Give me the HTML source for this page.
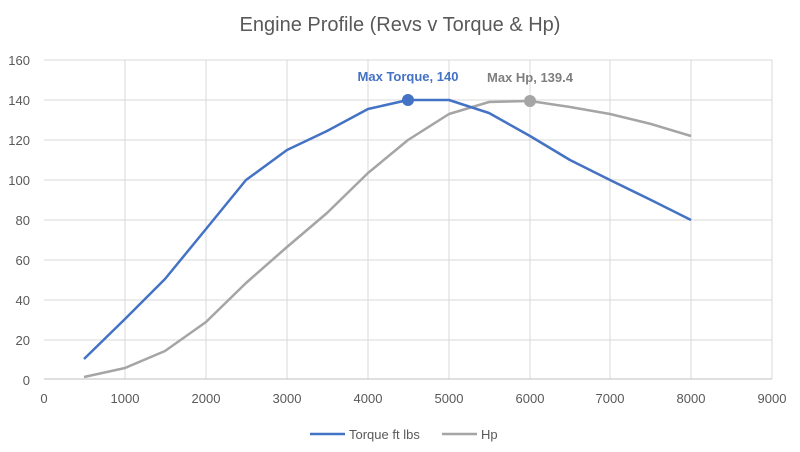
<!DOCTYPE html>
<html><head><meta charset="utf-8"><style>
body{margin:0;background:#fff;}
svg{display:block;font-family:"Liberation Sans",sans-serif;}
</style></head><body>
<svg width="800" height="452" viewBox="0 0 800 452">
<rect width="800" height="452" fill="#fff"/>
<text x="400" y="31" text-anchor="middle" font-size="20" fill="#595959">Engine Profile (Revs v Torque &amp; Hp)</text>
<g stroke="#d9d9d9" stroke-width="1">
<line x1="44" y1="60" x2="772" y2="60"/><line x1="44" y1="100" x2="772" y2="100"/>
<line x1="44" y1="140" x2="772" y2="140"/><line x1="44" y1="180" x2="772" y2="180"/>
<line x1="44" y1="220" x2="772" y2="220"/><line x1="44" y1="260" x2="772" y2="260"/>
<line x1="44" y1="300" x2="772" y2="300"/><line x1="44" y1="340" x2="772" y2="340"/>
<line x1="125" y1="60" x2="125" y2="379"/><line x1="206" y1="60" x2="206" y2="379"/>
<line x1="287" y1="60" x2="287" y2="379"/><line x1="368" y1="60" x2="368" y2="379"/>
<line x1="449" y1="60" x2="449" y2="379"/><line x1="530" y1="60" x2="530" y2="379"/>
<line x1="610" y1="60" x2="610" y2="379"/><line x1="691" y1="60" x2="691" y2="379"/>
<line x1="772" y1="60" x2="772" y2="379"/>
</g>
<line x1="44" y1="379" x2="772" y2="379" stroke="#bfbfbf"/>
<g font-size="13" fill="#595959" text-anchor="end">
<text x="30" y="65">160</text><text x="30" y="105">140</text><text x="30" y="145">120</text>
<text x="30" y="185">100</text><text x="30" y="225">80</text><text x="30" y="265">60</text>
<text x="30" y="305">40</text><text x="30" y="345">20</text><text x="30" y="385">0</text>
</g>
<g font-size="13" fill="#595959" text-anchor="middle">
<text x="44" y="403">0</text><text x="125" y="403">1000</text><text x="206" y="403">2000</text>
<text x="287" y="403">3000</text><text x="368" y="403">4000</text><text x="449" y="403">5000</text>
<text x="530" y="403">6000</text><text x="610" y="403">7000</text><text x="691" y="403">8000</text>
<text x="772" y="403">9000</text>
</g>
<polyline fill="none" stroke="#a5a5a5" stroke-width="2.5" stroke-linejoin="round" points="84,377 125,368 165,351 206,322 246,283 287,247 327,213 368,173 408,140 449,114 489,102 530,101 570,107 610,114 651,124 691,136"/>
<polyline fill="none" stroke="#4472c4" stroke-width="2.5" stroke-linejoin="round" points="84,359 125,319 165,279 206,229 246,180 287,150 327,131 368,109 408,100 449,100 489,113 530,136 570,160 610,180 651,200 691,220"/>
<circle cx="408" cy="100" r="6" fill="#4472c4"/>
<circle cx="530" cy="101" r="6" fill="#a5a5a5"/>
<text x="408" y="81" text-anchor="middle" font-size="13" font-weight="bold" fill="#4472c4">Max Torque, 140</text>
<text x="530" y="82" text-anchor="middle" font-size="13" font-weight="bold" fill="#7f7f7f">Max Hp, 139.4</text>
<line x1="310" y1="434" x2="345" y2="434" stroke="#4472c4" stroke-width="2.5"/>
<text x="349" y="439" font-size="13" fill="#595959">Torque ft lbs</text>
<line x1="442" y1="434" x2="477" y2="434" stroke="#a5a5a5" stroke-width="2.5"/>
<text x="481" y="439" font-size="13" fill="#595959">Hp</text>
</svg>
</body></html>
